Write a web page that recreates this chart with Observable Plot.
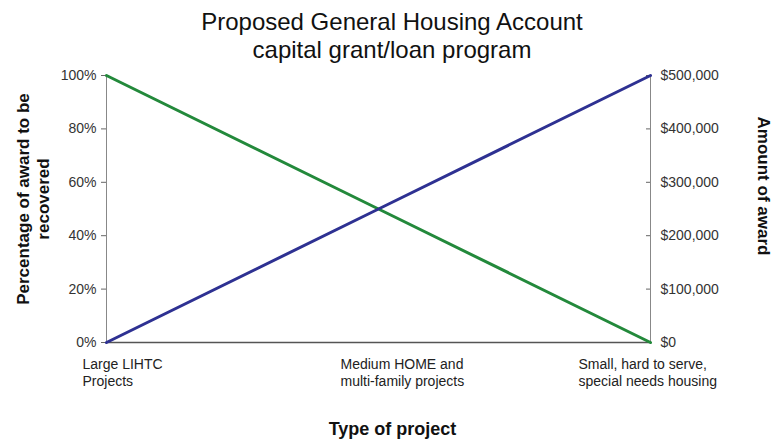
<!DOCTYPE html>
<html><head><meta charset="utf-8">
<script src="https://cdn.jsdelivr.net/npm/d3@7"></script>
<script src="https://cdn.jsdelivr.net/npm/@observablehq/plot@0.6"></script>
<style>
body{margin:0;background:#fff;font-family:"Liberation Sans",Arial,sans-serif;}
#title{width:784px;height:62px;text-align:center;font-size:24px;line-height:28px;padding-top:8px;box-sizing:border-box;color:#111;}
#chart svg{display:block;}
</style></head><body>
<div id="title">Proposed General Housing Account<br>capital grant/loan program</div>
<div id="chart"></div>
<script>
const categories = ["Large LIHTC\nProjects", "Medium HOME and\nmulti-family projects", "Small, hard to serve,\nspecial needs housing"];
const pctRecovered = [100, 50, 0];
const awardAmount = [0, 250000, 500000];
const pctTicks = [0, 20, 40, 60, 80, 100];
const amountTicks = [0, 100000, 200000, 300000, 400000, 500000];
const amountMax = 500000;

const rows = categories.map((c, i) => ({category: c, pct: pctRecovered[i], amount: awardAmount[i]}));
const toPct = a => a / amountMax * 100;
const labelDx = [-24, -38, -72];

const chart = Plot.plot({
  width: 784,
  height: 380,
  marginLeft: 106,
  marginRight: 134,
  marginTop: 13,
  marginBottom: 100,
  style: {fontFamily: "'Liberation Sans', Arial, sans-serif", fontSize: "14px", color: "#333", background: "#fff"},
  x: {type: "point", domain: categories, padding: 0, axis: null},
  y: {domain: [0, 100], axis: null},
  marks: [
    Plot.axisY(pctTicks, {anchor: "left", tickSize: 5, tickPadding: 5, tickFormat: d => d + "%", label: null, stroke: "#666", fill: "#333"}),
    Plot.axisY(amountTicks.map(toPct), {anchor: "right", tickSize: -5, tickPadding: 15, tickFormat: d => "$" + d3.format(",")(Math.round(d * amountMax / 100)), label: null, stroke: "#666", fill: "#333"}),
    Plot.ruleX([categories[0]], {stroke: "#888", strokeWidth: 1}),
    Plot.ruleX([categories[2]], {stroke: "#888", strokeWidth: 1}),
    Plot.ruleY([0], {stroke: "#555", strokeWidth: 1.5}),
    Plot.line(rows, {x: "category", y: "pct", stroke: "#23893b", strokeWidth: 3}),
    Plot.line(rows, {x: "category", y: d => toPct(d.amount), stroke: "#2e3192", strokeWidth: 3}),
    ...categories.map((c, i) => Plot.text([c], {x: d => d, frameAnchor: "bottom", dy: 15, dx: labelDx[i], textAnchor: "start", lineAnchor: "top", lineHeight: 1.2, fill: "#222"})),
    Plot.text(["Type of project"], {frameAnchor: "bottom", dx: 14, dy: 87, textAnchor: "middle", lineAnchor: "middle", fontWeight: "bold", fontSize: 18, fill: "#111"}),
    Plot.text(["Percentage of award to be\nrecovered"], {frameAnchor: "left", dx: -74, dy: -10, rotate: -90, textAnchor: "middle", lineAnchor: "middle", fontWeight: "bold", fontSize: 17, lineHeight: 1.2, fill: "#111"}),
    Plot.text(["Amount of award"], {frameAnchor: "right", dx: 113, dy: -23, rotate: 90, textAnchor: "middle", lineAnchor: "middle", fontWeight: "bold", fontSize: 17, fill: "#111"})
  ]
});
document.getElementById("chart").appendChild(chart);
</script>
</body></html>
